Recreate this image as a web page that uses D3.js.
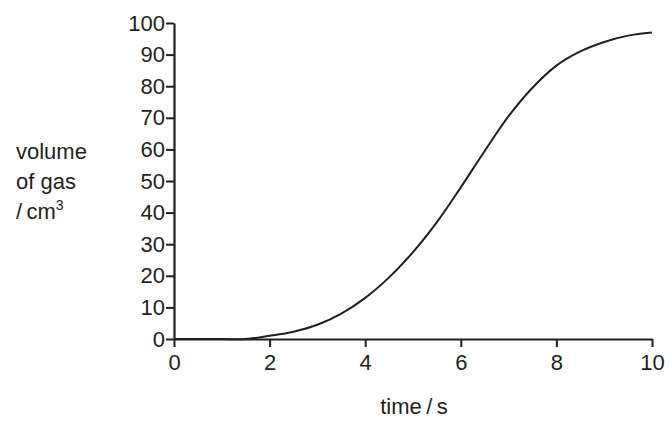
<!DOCTYPE html>
<html>
<head>
<meta charset="utf-8">
<script src="https://cdn.jsdelivr.net/npm/d3@7"></script>
<style>
body { margin: 0; background: #fff; }
text { font-family: "Liberation Sans", Arial, sans-serif; fill: #231f20; }
</style>
</head>
<body>
<svg id="chart" width="672" height="424"></svg>
<script>
// values
const timeS = [0, 1, 1.5, 2, 2.5, 3, 3.5, 4, 4.5, 5, 5.5, 6, 6.5, 7, 7.5, 8, 8.5, 9, 9.5, 10];
const volume = [0, 0, 0, 1, 2.3, 4.5, 8, 13, 19.5, 27.5, 37, 48, 59.5, 70.5, 79.5, 86.5, 91, 94, 96, 97];
const xTicks = [0, 2, 4, 6, 8, 10];
const yTicks = d3.range(0, 101, 10);

const svg = d3.select('#chart');
const x = d3.scaleLinear().domain([0, 10]).range([174, 652]);
const y = d3.scaleLinear().domain([0, 100]).range([339, 23]);

// axes
const gx = svg.append('g').attr('transform', `translate(0,${y(0)})`)
	.call(d3.axisBottom(x).tickValues(xTicks).tickSize(8).tickSizeOuter(0));
const gy = svg.append('g').attr('transform', `translate(${x(0)},0)`)
	.call(d3.axisLeft(y).tickValues(yTicks).tickSize(8).tickSizeOuter(0));

[gx, gy].forEach(g => {
	g.select('.domain').attr('stroke', '#231f20').attr('stroke-width', 2.2);
	g.selectAll('.tick line').attr('stroke', '#231f20').attr('stroke-width', 2);
	g.selectAll('.tick text').style('font-size', '22px').attr('fill', '#231f20')
		.style('font-family', '"Liberation Sans", Arial, sans-serif');
});
gx.selectAll('.tick text').attr('dy', '0.9em');
gy.selectAll('.tick text').attr('x', -9);

// curve
const line = d3.line()
	.x((d, i) => x(timeS[i]))
	.y(d => y(d))
	.curve(d3.curveCatmullRom);
svg.append('path')
	.datum(volume)
	.attr('fill', 'none')
	.attr('stroke', '#231f20')
	.attr('stroke-width', 2)
	.attr('d', line);

// labels
svg.append('text').attr('x', 414).attr('y', 414).attr('text-anchor', 'middle')
	.style('font-size', '22px').text('time\u2009/\u2009s');
const yl = svg.append('text').style('font-size', '22px');
yl.append('tspan').attr('x', 16).attr('y', 159).text('volume');
yl.append('tspan').attr('x', 16).attr('y', 189).text('of gas');
yl.append('tspan').attr('x', 16).attr('y', 219).text('/\u2009cm');
yl.append('tspan').attr('dy', -9).style('font-size', '14px').text('3');
</script>
</body>
</html>
